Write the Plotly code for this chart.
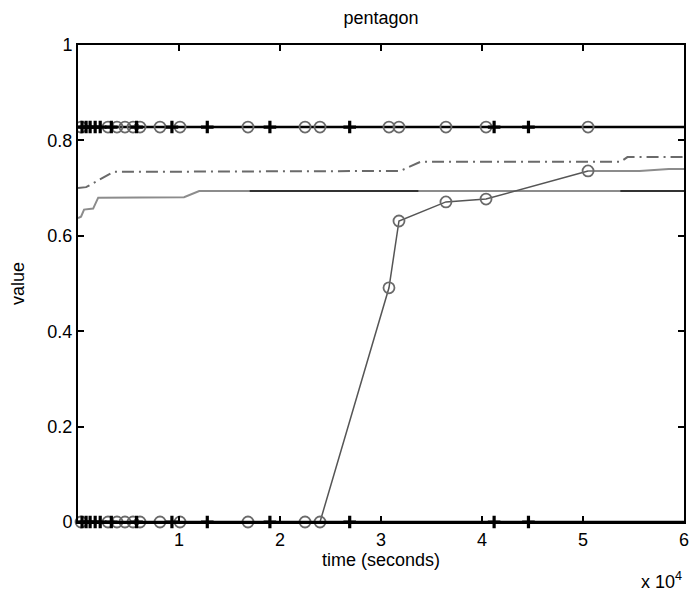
import plotly.graph_objects as go

# ---- data ----
best_level = 0.828
zero_level = 0.0
x_span = [0, 60000]

plus_times = [400, 800, 1200, 1700, 2200, 3300, 5800, 9300, 12800, 19000, 26900, 41200, 44600]
circle_times = [300, 2970, 3860, 4650, 5450, 6140, 8120, 10100, 16830, 22480, 23960,
                30790, 31780, 36430, 40400, 50500]
circle_values = [0, 0, 0, 0, 0, 0, 0, 0, 0, 0, 0,
                 0.491, 0.631, 0.671, 0.677, 0.736]
tail_x = [50500, 55600, 58500, 60000]
tail_y = [0.736, 0.736, 0.740, 0.740]

dashdot_x = [0, 800, 3500, 31900, 33900, 53700, 54400, 60000]
dashdot_y = [0.700, 0.702, 0.734, 0.736, 0.755, 0.755, 0.765, 0.765]

gray_x = [0, 300, 600, 1500, 2000, 10500, 12000, 60000]
gray_y = [0.637, 0.640, 0.655, 0.657, 0.680, 0.681, 0.694, 0.694]

dark_x = [17000, 33700, None, 53700, 60000]
dark_y = [0.694, 0.694, None, 0.694, 0.694]

xtick_vals = [10000, 20000, 30000, 40000, 50000, 60000]
xtick_text = ["1", "2", "3", "4", "5", "6"]
ytick_vals = [0, 0.2, 0.4, 0.6, 0.8, 1]
ytick_text = ["0", "0.2", "0.4", "0.6", "0.8", "1"]

GRAY = "#6a6a6a"
LGRAY = "#8c8c8c"

fig = go.Figure()

fig.add_trace(go.Scatter(x=gray_x, y=gray_y, mode="lines", line=dict(color=LGRAY, width=2)))
fig.add_trace(go.Scatter(x=dark_x, y=dark_y, mode="lines", line=dict(color="#333333", width=2)))
fig.add_trace(go.Scatter(x=dashdot_x, y=dashdot_y, mode="lines",
                         line=dict(color=GRAY, width=2, dash="12px,5px,2px,5px")))
fig.add_trace(go.Scatter(x=tail_x, y=tail_y, mode="lines", line=dict(color=LGRAY, width=2)))
fig.add_trace(go.Scatter(x=circle_times, y=circle_values, mode="lines+markers",
                         line=dict(color="#555555", width=1.5),
                         marker=dict(symbol="circle-open", size=11, color=GRAY, line=dict(width=1.8)),
                         cliponaxis=False))
fig.add_trace(go.Scatter(x=x_span, y=[best_level, best_level], mode="lines",
                         line=dict(color="black", width=2.5)))
fig.add_trace(go.Scatter(x=circle_times, y=[best_level] * len(circle_times), mode="markers",
                         marker=dict(symbol="circle-open", size=11, color=GRAY, line=dict(width=1.8))))
fig.add_trace(go.Scatter(x=plus_times, y=[best_level] * len(plus_times), mode="markers",
                         marker=dict(symbol="cross-thin-open", size=9, color="black", line=dict(width=3.2))))
fig.add_trace(go.Scatter(x=x_span, y=[zero_level, zero_level], mode="lines",
                         line=dict(color="black", width=2.5), cliponaxis=False))
fig.add_trace(go.Scatter(x=plus_times, y=[zero_level] * len(plus_times), mode="markers",
                         marker=dict(symbol="cross-thin-open", size=9, color="black", line=dict(width=3.2)),
                         cliponaxis=False))

font = "Liberation Sans, Arial, sans-serif"
W, H = 690, 589
fig.update_layout(
    width=W, height=H,
    margin=dict(l=70, r=14, t=37, b=75, autoexpand=False),
    paper_bgcolor="white", plot_bgcolor="white",
    showlegend=False,
    font=dict(family=font, size=18, color="black"),
    title=dict(text="pentagon", x=(381 - 8) / W, xanchor="center",
               y=1 - 10 / H, yanchor="middle", font=dict(size=18)),
    xaxis=dict(range=x_span, tickvals=xtick_vals, ticktext=xtick_text,
               showgrid=False, zeroline=False, showline=True, linecolor="black", linewidth=2,
               mirror="ticks", ticks="inside", ticklen=6, tickwidth=1.5, tickcolor="black",
               title=dict(text="time (seconds)", standoff=4, font=dict(size=18))),
    yaxis=dict(range=[0, 1], tickvals=ytick_vals, ticktext=ytick_text,
               showgrid=False, zeroline=False, showline=True, linecolor="black", linewidth=2,
               mirror="ticks", ticks="inside", ticklen=6, tickwidth=1.5, tickcolor="black",
               title=dict(text="value", standoff=18, font=dict(size=18))),
    annotations=[dict(text="x 10<sup>4</sup>", xref="paper", yref="paper", x=1.0, y=-0.095,
                      xanchor="right", yanchor="top", showarrow=False, font=dict(size=18))],
)

fig.write_html("out.html")
